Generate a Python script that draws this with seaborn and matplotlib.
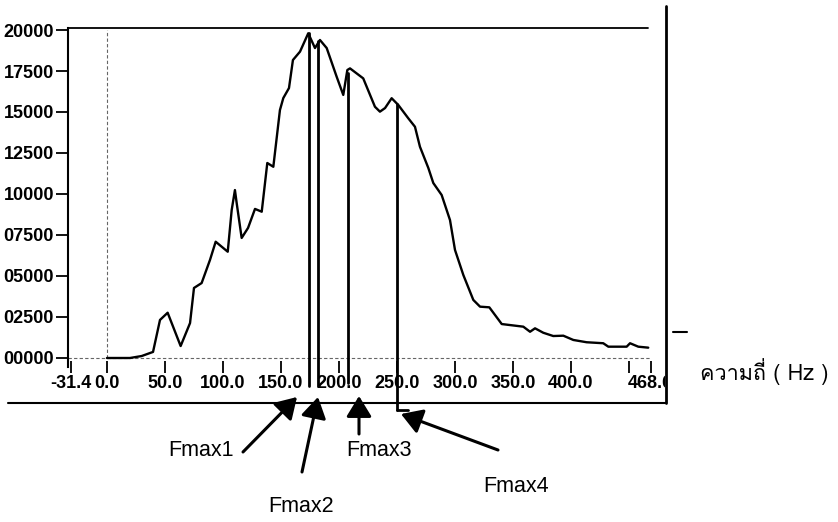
import numpy as np
import pandas as pd
import matplotlib
matplotlib.use("Agg")
import matplotlib.pyplot as plt
import seaborn as sns
from matplotlib import font_manager
from matplotlib.lines import Line2D
from matplotlib.transforms import Bbox, TransformedBbox
from matplotlib.ft2font import FT2Font

# ---------------- data ----------------
freq_hz = [0.0, 19.8, 29.9, 39.7, 45.7, 52.3, 63.5, 71.6, 75.0, 81.6, 88.8, 93.7,
           104.1, 107.5, 110.3, 111.8, 116.1, 121.6, 127.6, 133.4, 138.2, 143.4,
           149.1, 152.0, 156.9, 160.3, 166.4, 173.5, 179.3, 183.6, 189.4, 198.0,
           203.7, 207.2, 209.5, 220.9, 231.0, 235.3, 239.7, 245.4, 251.1, 259.7,
           265.5, 269.8, 277.0, 281.3, 288.5, 295.7, 300.0, 307.2, 315.8, 321.6,
           329.6, 340.3, 358.9, 364.7, 369.0, 376.1, 384.7, 393.4, 402.0, 413.5,
           427.8, 432.2, 448.0, 450.9, 458.0, 466.6]
amplitude = [0, 0, 120, 370, 2320, 2760, 730, 2130, 4270, 4570, 5980, 7090,
             6480, 9020, 10240, 9450, 7320, 7930, 9090, 8920, 11890, 11660,
             15120, 15850, 16460, 18170, 18680, 19800, 18900, 19390, 18900, 17150,
             16040, 17560, 17660, 17050, 15320, 15020, 15240, 15840, 15430, 14620,
             14100, 12880, 11590, 10670, 9940, 8410, 6590, 5060, 3540, 3130,
             3090, 2070, 1910, 1600, 1810, 1540, 1340, 1360, 1100, 960,
             900, 690, 690, 900, 690, 630]

fmax_labels = ["Fmax1", "Fmax2", "Fmax3", "Fmax4"]
fmax_hz = [174.0, 182.0, 208.0, 250.4]
fmax_top = [19800, 19300, 17400, 15500]
fmax_bottom = [-1700, -1700, -1500, -3150]

xtick_values = [-31.4, 0.0, 50.0, 100.0, 150.0, 200.0, 250.0, 300.0, 350.0, 400.0, 450.0, 468.6]
xtick_labels = ["-31.4", "0.0", "50.0", "100.0", "150.0", "200.0", "250.0",
                "300.0", "350.0", "400.0", "", "468.6"]
ytick_values = [0, 2500, 5000, 7500, 10000, 12500, 15000, 17500, 20000]
ytick_labels = ["00000", "02500", "05000", "07500", "10000", "12500", "15000", "17500", "20000"]
x_label = "ความถี่ ( Hz )"

# ---------------- fonts ----------------
sns.set_theme(style="white")
available = {f.name for f in font_manager.fontManager.ttflist}
thai_font = None
for f in font_manager.fontManager.ttflist:
    try:
        if 0x0E04 in FT2Font(f.fname).get_charmap():
            thai_font = f.name
            break
    except Exception:
        pass
plt.rcParams["font.family"] = ["DejaVu Sans"]
label_font = "Liberation Sans" if "Liberation Sans" in available else "DejaVu Sans"

# ---------------- figure ----------------
W, H = 838, 522
fig = plt.figure(figsize=(W / 100, H / 100), dpi=100)
fig.patch.set_facecolor("white")


def fx(px):
    return px / W


def fy(py):
    return 1 - py / H


ax = fig.add_axes([fx(68), fy(367), fx(666) - fx(68), fy(28) - fy(367)])
ax.set_facecolor("white")

df = pd.DataFrame({"freq": freq_hz, "amp": amplitude})
sns.lineplot(data=df, x="freq", y="amp", ax=ax, color="black", lw=1.7,
             sort=False, estimator=None, zorder=3)

ax.set_xlim(-33.6, 481.9)
ax.set_ylim(-549, 20122)
ax.set_xlabel("")
ax.set_ylabel("")

# frame
for s in ["top", "right", "bottom"]:
    ax.spines[s].set_visible(False)
ax.spines["left"].set_color("black")
ax.spines["left"].set_linewidth(1.5)
ax.plot([0, 0.97], [1, 1], transform=ax.transAxes, color="black", lw=1.3, clip_on=False)

# dashed reference lines
ymin_f = (0 + 549) / (20122 + 549)
ymax_f = (20000 + 549) / (20122 + 549)
ax.axvline(0, ymin=ymin_f, ymax=ymax_f, color="#666666", lw=0.8, ls=(0, (3, 2)))
ax.axhline(0, xmin=0, xmax=0.973, color="#666666", lw=0.8, ls=(0, (3, 2)))

# Fmax vertical lines
for xh, top, bot in zip(fmax_hz, fmax_top, fmax_bottom):
    ax.plot([xh, xh], [top, bot], color="black", lw=2.0, clip_on=False, zorder=4)
ax.plot([fmax_hz[3], fmax_hz[3] + 9], [fmax_bottom[3], fmax_bottom[3]],
        color="black", lw=2.0, clip_on=False, zorder=4)

# ticks
ax.set_xticks(xtick_values, xtick_labels)
ax.set_yticks(ytick_values, ytick_labels)
ax.tick_params(axis="x", bottom=True, direction="inout", length=9, width=1.3,
               color="black", pad=1, labelsize=13, labelcolor="black")
ax.tick_params(axis="y", left=True, direction="out", length=9, width=1.3,
               color="black", pad=1, labelsize=13, labelcolor="black")
clipbox = TransformedBbox(Bbox([[0, 0], [fx(665), 1]]), fig.transFigure)
for lbl in ax.get_xticklabels() + ax.get_yticklabels():
    lbl.set_family([label_font, "DejaVu Sans"])
    lbl.set_fontweight("bold")
    lbl.set_clip_box(clipbox)
    lbl.set_clip_on(True)

# figure-level lines
fig.add_artist(Line2D([fx(666), fx(666)], [fy(6), fy(403)], color="black", lw=2.0))
fig.add_artist(Line2D([fx(8), fx(666)], [fy(403), fy(403)], color="black", lw=1.5))
fig.add_artist(Line2D([fx(673), fx(687)], [fy(332), fy(332)], color="black", lw=1.5))

# axis title (Thai)
fam = [thai_font, "DejaVu Sans"] if thai_font else ["DejaVu Sans"]
fig.text(fx(700), fy(372), x_label, ha="left", va="center", fontsize=15.5,
         family=fam, color="black")

# Fmax annotations
tails = [(243, 452), (302, 472), (359, 434), (498, 450)]
tips = [(297, 397), (318, 397), (359, 396), (401, 414)]
text_pos = [(201, 451), (301, 507), (379, 450), (516, 487)]
for lab, (tx, ty), (hx, hy), (lx, ly) in zip(fmax_labels, tails, tips, text_pos):
    fig.add_artist(matplotlib.patches.FancyArrowPatch(
        (fx(tx), fy(ty)), (fx(hx), fy(hy)), transform=fig.transFigure,
        arrowstyle="-|>,head_length=0.9,head_width=0.55", mutation_scale=14,
        lw=2.2, color="black", shrinkA=0, shrinkB=0))
    fig.text(fx(lx), fy(ly), lab, ha="center", va="center", fontsize=15.5,
             family=label_font, color="black")

fig.savefig("out.png", dpi=100, facecolor="white")
